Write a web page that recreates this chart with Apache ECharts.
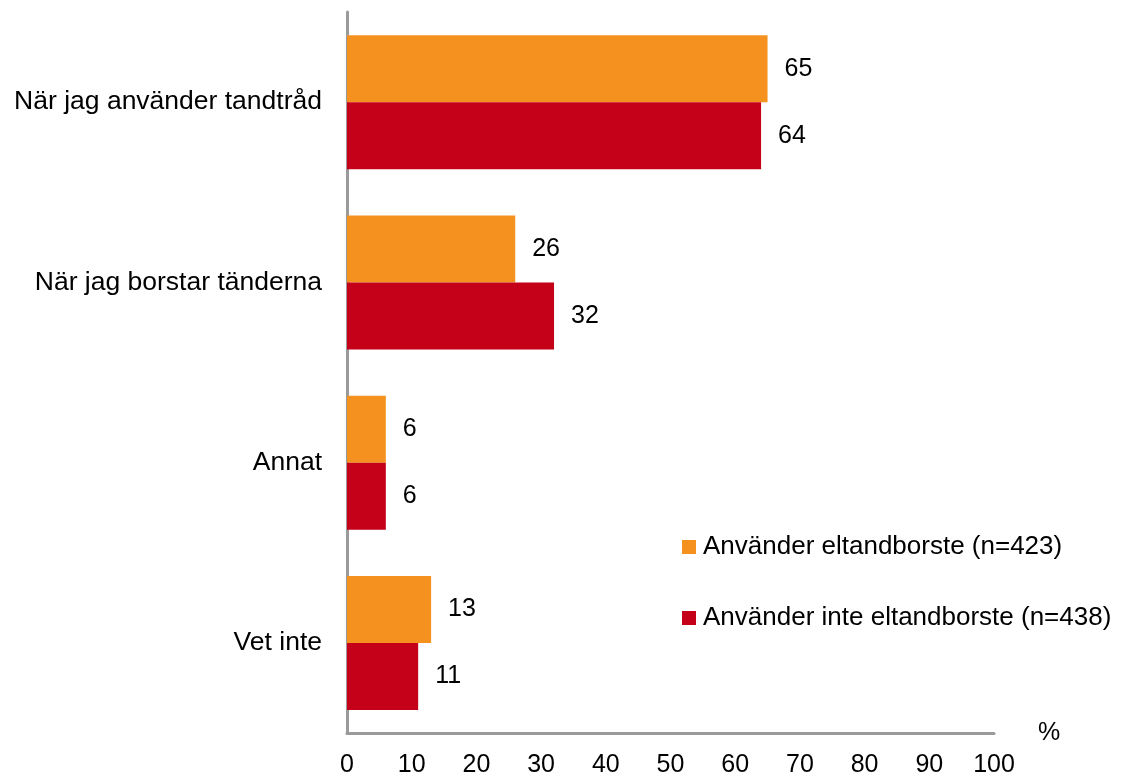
<!DOCTYPE html>
<html lang="sv" style="height: 100%">
<head>
    <meta charset="utf-8">
    <title>Tandtråd</title>
    <script src="https://cdn.jsdelivr.net/npm/echarts@6/dist/echarts.min.js"></script>
</head>
<body style="height: 100%; margin: 0; background: #fff;">
<div id="container" style="width: 1123px; height: 779px"></div>
<script type="text/javascript">
    var categories = ['När jag använder tandtråd', 'När jag borstar tänderna', 'Annat', 'Vet inte'];
    var seriesNames = ['Använder eltandborste (n=423)', 'Använder inte eltandborste (n=438)'];
    var medEl = [65, 26, 6, 13];
    var utanEl = [64, 32, 6, 11];
    var xTicks = [0, 100, 10]; // min, max, interval

    var myChart = echarts.init(document.getElementById('container'), null, {renderer: 'canvas'});
    var font = 'Liberation Sans, Arial, sans-serif';
    var axisLine = {show: true, lineStyle: {color: '#9a9a9a', width: 3}};

    function bar(name, data, color) {
        return {
            name: name,
            type: 'bar',
            data: data,
            barWidth: 67,
            barGap: '0%',
            itemStyle: {color: color},
            label: {
                show: true,
                position: 'right',
                distance: 17,
                fontSize: 25,
                fontFamily: font,
                color: '#000'
            }
        };
    }

    var option = {
        animation: false,
        grid: {left: 347, right: 129, top: 12, bottom: 46},
        legend: {
            orient: 'vertical',
            left: 677,
            top: 529,
            icon: 'rect',
            itemWidth: 14,
            itemHeight: 14,
            itemGap: 45,
            textStyle: {fontSize: 26, fontFamily: font, color: '#000', padding: [0, 0, 0, 2]},
            data: seriesNames
        },
        xAxis: {
            type: 'value',
            min: xTicks[0],
            max: xTicks[1],
            interval: xTicks[2],
            name: '%',
            nameLocation: 'end',
            nameGap: 44,
            nameTextStyle: {fontSize: 25, fontFamily: font, color: '#000', padding: [10, 0, 0, 0]},
            axisLine: axisLine,
            axisTick: {show: false},
            splitLine: {show: false},
            axisLabel: {fontSize: 25, fontFamily: font, color: '#000', margin: 20}
        },
        yAxis: {
            type: 'category',
            inverse: true,
            data: categories,
            axisLine: axisLine,
            axisTick: {show: false},
            axisLabel: {fontSize: 26.5, fontFamily: font, color: '#000', margin: 25}
        },
        series: [
            bar(seriesNames[0], medEl, '#f5921f'),
            bar(seriesNames[1], utanEl, '#c50019')
        ]
    };
    myChart.setOption(option);
</script>
</body>
</html>
